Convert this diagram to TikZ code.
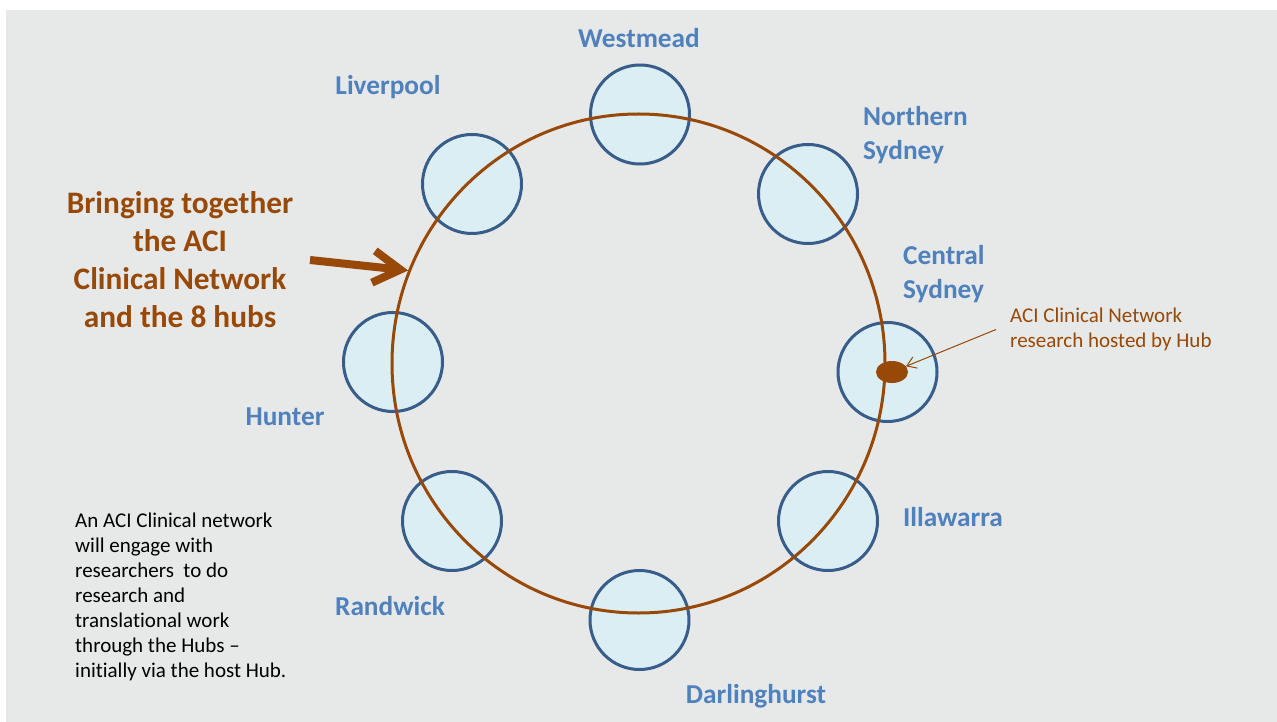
\documentclass[tikz,border=0pt]{standalone}
\usepackage{fontspec}
\setmainfont{Carlito}[Ligatures={TeX,NoCommon}]
\usepackage{tikz}
\usetikzlibrary{shapes.geometric}
\usetikzlibrary{arrows.meta}
\tikzset{>=latex}
\definecolor{hubline}{HTML}{385D8A}
\definecolor{hubfill}{HTML}{DAEEF3}
\definecolor{labelblue}{HTML}{4F81BD}
\definecolor{aciorange}{HTML}{984807}
\definecolor{slidegrey}{HTML}{E7E8E8}
\tikzstyle{hub}=[circle,draw=hubline,line width=3,fill=hubfill,minimum size=99,inner sep=0]
\tikzstyle{hub label}=[text=labelblue,font=\fontsize{27.3}{34}\selectfont\bfseries,align=left,inner sep=0]
\tikzstyle{ring}=[ellipse,draw=aciorange,line width=3,minimum width=493,minimum height=499,inner sep=0]
\tikzstyle{note}=[font=\fontsize{21}{25}\selectfont,align=left,inner sep=0]

\begin{document}
\begin{tikzpicture}[x=1pt,y=-1pt]
	% Slide background
	\useasboundingbox (0,0) rectangle (1277,722);
	\fill[slidegrey] (6,10) rectangle (1277,722);

	% The eight hubs
	\node[hub] (westmead)      at (640,114.5) {};
	\node[hub] (northsydney)   at (808,194) {};
	\node[hub] (centralsydney) at (887.5,372) {};
	\node[hub] (illawarra)     at (828,521) {};
	\node[hub] (darlinghurst)  at (639.5,620) {};
	\node[hub] (randwick)      at (452,521) {};
	\node[hub] (hunter)        at (393,362) {};
	\node[hub] (liverpool)     at (472,184) {};

	% The network ring, drawn over the hubs
	\node[ring] (ring) at (638.5,363.5) {};

	% Hub names
	\node[hub label] (lwestmead)      at (639,38) {Westmead};
	\node[hub label,anchor=west] (lnorthsydney)   at (863,135) {Northern\\Sydney};
	\node[hub label,anchor=west] (lcentralsydney) at (903,274) {Central\\Sydney};
	\node[hub label] (lillawarra)     at (953,517) {Illawarra};
	\node[hub label] (ldarlinghurst)  at (756,696) {Darlinghurst};
	\node[hub label] (lrandwick)      at (390,606) {Randwick};
	\node[hub label] (lhunter)        at (285,417) {Hunter};
	\node[hub label] (lliverpool)     at (388,87) {Liverpool};

	% Host hub
	\node[ellipse,fill=aciorange,minimum width=32,minimum height=22,inner sep=0] (hostdot) at (892,372) {};
	\node[note,text=aciorange,anchor=west] (hostnote) at (1010,329.5) {ACI Clinical Network\\research hosted by Hub};
	\draw[aciorange,line width=1,-{Straight Barb[length=9pt,width=12pt]}] ([xshift=-14]hostnote.west) -- (hostdot);

	% Title and its arrow
	\node[text=aciorange,align=center,inner sep=0,font=\fontsize{31.3}{38}\selectfont\bfseries] (title) at (180,259.5)
		{Bringing together\\the ACI\\Clinical Network\\and the 8 hubs};
	\coordinate (tail) at (310,260);
	\draw[aciorange,line width=8,-{Straight Barb[length=27pt,width=32pt]}] (tail) -- (ring.158);

	% Explanation
	\node[note,anchor=west] (explain) at (75,597) {An ACI Clinical network\\will engage with\\researchers~ to do\\research and\\translational work\\through the Hubs –\\initially via the host Hub.};
\end{tikzpicture}
\end{document}
